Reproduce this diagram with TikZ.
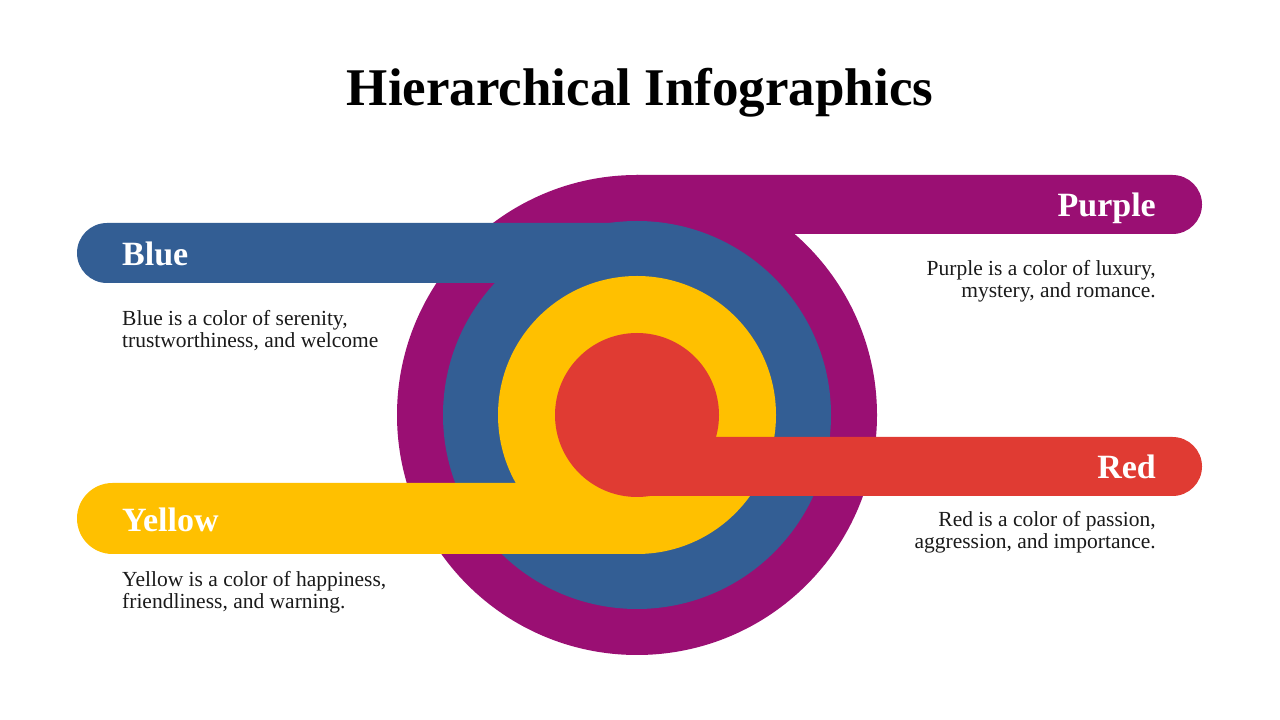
\documentclass[tikz,border=0pt]{standalone}
\usepackage{fontspec}
\setmainfont{Liberation Serif}
\usetikzlibrary{positioning}

\definecolor{ringpurple}{HTML}{9A0F73}
\definecolor{ringblue}{HTML}{335E94}
\definecolor{ringyellow}{HTML}{FFC000}
\definecolor{ringred}{HTML}{E03B33}
\definecolor{bodytext}{HTML}{1A1A1A}

\begin{document}
\begin{tikzpicture}[x=1pt,y=1pt,
    barlabel/.style={text=white,inner sep=0pt,font=\fontsize{34}{38}\selectfont\bfseries},
    desctext/.style={text=bodytext,inner sep=0pt,font=\fontsize{21.5}{22.5}\selectfont}]

       \useasboundingbox (0,0) rectangle (1280,720);
       \coordinate (C) at (637,305);

       % outer ring and its bar
       \fill[ringpurple] (C) circle (240);
       \fill[ringpurple] (637,545) -- (1172.5,545) arc[start angle=90,end angle=-90,radius=29.5] -- (637,486) -- cycle;

       \fill[ringblue] (637,497) -- (107,497) arc[start angle=90,end angle=270,radius=30] -- (637,437) -- cycle;
       \fill[ringblue] (C) circle (194);

       \fill[ringyellow] (C) circle (139);
       \fill[ringyellow] (645,237) -- (112.5,237) arc[start angle=90,end angle=270,radius=35.5] -- (645,166) -- cycle;

       % inner ring and its bar
       \fill[ringred] (C) circle (82);
       \fill[ringred] (637,283) -- (1172.5,283) arc[start angle=90,end angle=-90,radius=29.5] -- (637,224) -- cycle;

       \node[inner sep=0pt,font=\fontsize{53}{58}\selectfont\bfseries] (T) at (640,627) {Hierarchical Infographics};

       \node[barlabel,anchor=base east] (P) at (1156,503) {Purple};
       \node[barlabel,anchor=base west] (B) at (122,454) {Blue};
       \node[barlabel,anchor=base west] (Y) at (122,188) {Yellow};
       \node[barlabel,anchor=base east] (R) at (1156,241) {Red};

       % base of a two-line node is its second line
       \node[desctext,anchor=base east,align=right] (PD) at (1156,422) {Purple is a color of luxury,\\mystery, and romance.};
       \node[desctext,anchor=base west,align=left] (BD) at (122,372) {Blue is a color of serenity,\\trustworthiness, and welcome};
       \node[desctext,anchor=base west,align=left] (YD) at (122,111) {Yellow is a color of happiness,\\friendliness, and warning.};
       \node[desctext,anchor=base east,align=right] (RD) at (1156,171) {Red is a color of passion,\\aggression, and importance.};
\end{tikzpicture}
\end{document}
